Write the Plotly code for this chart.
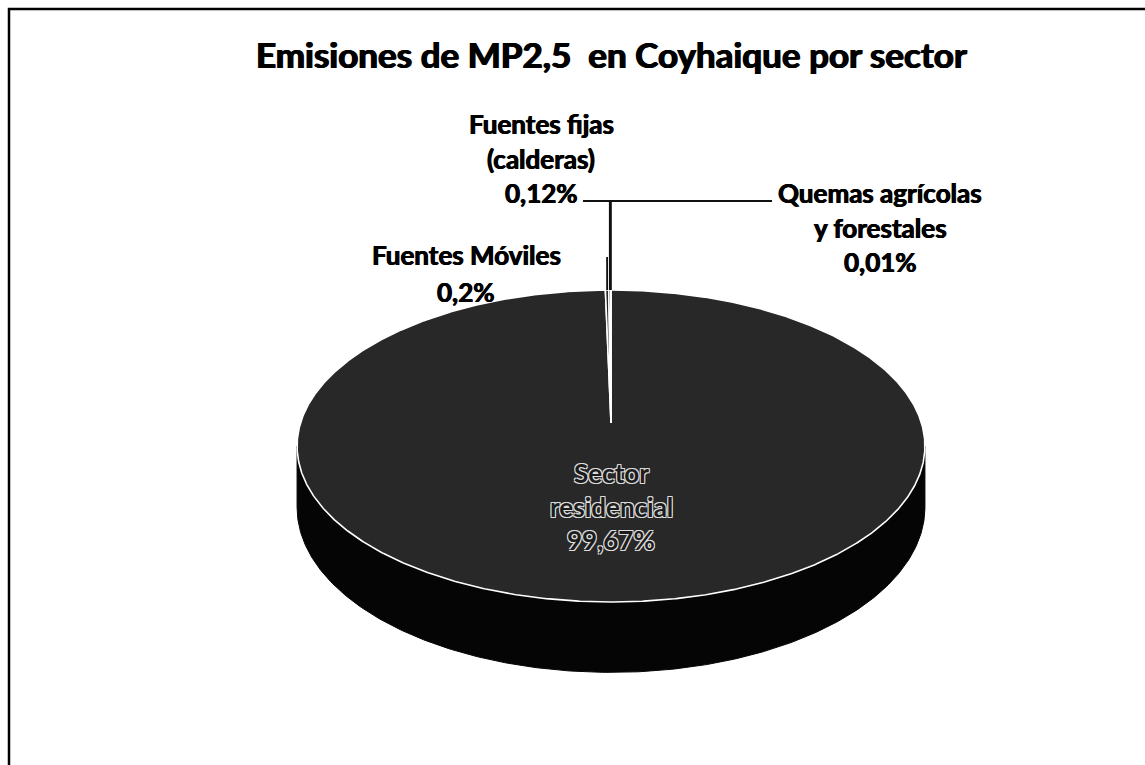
import numpy as np
import plotly.graph_objects as go

# ---------------- data ----------------
title_text = "Emisiones de MP2,5  en Coyhaique por sector"
sectors = ["Sector residencial", "Fuentes Móviles", "Fuentes fijas (calderas)", "Quemas agrícolas y forestales"]
values = [99.67, 0.2, 0.12, 0.01]
label_lines = [["Sector", "residencial"], ["Fuentes Móviles"], ["Fuentes fijas", "(calderas)"], ["Quemas agrícolas", "y forestales"]]

# ---------------- style / layout ----------------
W, H = 1145, 765
CX, CY = 611.0, 423.0      # projected pie centre (pixels)
RX = 310.5                  # horizontal radius
AY = 152.6                  # vertical projection factor
PB = 0.1475                 # perspective factor
DEPTH = 60.0                # side thickness
TOP_COLOR = "#282828"
SIDE_COLOR = "#050505"
FONT = "Lato"
LABEL_SIZE = 26
BOLDEN = "0.5px 0 0 #000, -0.5px 0 0 #000"

# label placement: centre x, first-line y, line spacing
label_pos = [(611, 473, 33.5), (466, 255, 37), (541, 124, 34.5), (880, 193, 34.5)]
# leader line elbows (None = none)
leader_start = [None, ("v", 257), ("h", 583, 201), ("h", 772, 201)]


def proj(r, th):
    d = r * np.cos(th)
    s = 1.0 / (1.0 + PB * d)
    return CX + RX * r * np.sin(th) * s, CY - AY * d * s


total = float(sum(values))
cum = np.concatenate([[0.0], np.cumsum(values)]) / total * 2 * np.pi

fig = go.Figure()

# side band (front, visible part), clipped to each slice's angular span
th_r = np.arccos(-PB)
th_l = 2 * np.pi - th_r
for i, v in enumerate(values):
    a0, a1 = max(cum[i], th_r), min(cum[i + 1], th_l)
    if a1 <= a0:
        continue
    ts = np.linspace(a0, a1, 300)
    xt, yt = proj(1.0, ts)
    s = 1.0 / (1.0 + PB * np.cos(ts))
    yb = yt + DEPTH * s
    xs = np.concatenate([xt, xt[::-1], [xt[0]]])
    ys = np.concatenate([yt, yb[::-1], [yt[0]]])
    fig.add_trace(go.Scatter(x=xs, y=ys, mode="lines", fill="toself",
                             fillcolor=SIDE_COLOR, line=dict(color=SIDE_COLOR, width=1),
                             hoverinfo="skip", showlegend=False))

# top face slices
for i, v in enumerate(values):
    n = max(4, int(np.ceil((cum[i + 1] - cum[i]) / 0.005)))
    ts = np.linspace(cum[i], cum[i + 1], n)
    xa, ya = proj(1.0, ts)
    xs = np.concatenate([[CX], xa, [CX]])
    ys = np.concatenate([[CY], ya, [CY]])
    fig.add_trace(go.Scatter(x=xs, y=ys, mode="lines", fill="toself",
                             fillcolor=TOP_COLOR, line=dict(color="white", width=1.6),
                             name=sectors[i], hoverinfo="name", showlegend=False))

# leader lines
for i, v in enumerate(values):
    ls = leader_start[i]
    if ls is None:
        continue
    mid = (cum[i] + cum[i + 1]) / 2
    xe, ye = proj(1.0, mid)
    if ls[0] == "v":
        lx, ly = [xe, xe], [ls[1], ye]
    else:
        lx, ly = [ls[1], xe, xe], [ls[2], ls[2], ye]
    fig.add_trace(go.Scatter(x=lx, y=ly, mode="lines", line=dict(color="#111111", width=1.8),
                             hoverinfo="skip", showlegend=False))


def fmt_pct(v):
    return str(v).replace(".", ",") + "%"


annotations = []
for i, v in enumerate(values):
    x0, y0, sp = label_pos[i]
    lines = label_lines[i] + [fmt_pct(v)]
    for k, t in enumerate(lines):
        if i == 0:
            font = dict(family=FONT, size=LABEL_SIZE, weight="bold", color="#1c1c1c",
                        shadow="1px 1px 0 #ddd, -1px -1px 0 #ddd, 1px -1px 0 #ddd, -1px 1px 0 #ddd")
        else:
            font = dict(family=FONT, size=LABEL_SIZE, weight="bold", color="black", shadow=BOLDEN)
        annotations.append(dict(x=x0, y=y0 + k * sp, xref="x", yref="y", text=t,
                                showarrow=False, xanchor="center", yanchor="middle", font=font))

annotations.append(dict(x=611, y=54, xref="x", yref="y", text=title_text,
                        showarrow=False, xanchor="center", yanchor="middle",
                        font=dict(family=FONT, size=35, weight="bold", color="black",
                                  shadow="0.7px 0 0 #000, -0.7px 0 0 #000")))

fig.update_layout(
    width=W, height=H, margin=dict(l=0, r=0, t=0, b=0),
    paper_bgcolor="white", plot_bgcolor="white",
    xaxis=dict(range=[0, W], visible=False, fixedrange=True),
    yaxis=dict(range=[H, 0], visible=False, fixedrange=True),
    annotations=annotations,
    shapes=[dict(type="rect", xref="x", yref="y", x0=9, y0=9, x1=W + 20, y1=H + 20,
                 line=dict(color="black", width=2.5), layer="above")],
)

fig.write_html("out.html", config={"displayModeBar": False},
               post_script="document.body.style.margin='0';document.body.style.overflow='hidden';")
